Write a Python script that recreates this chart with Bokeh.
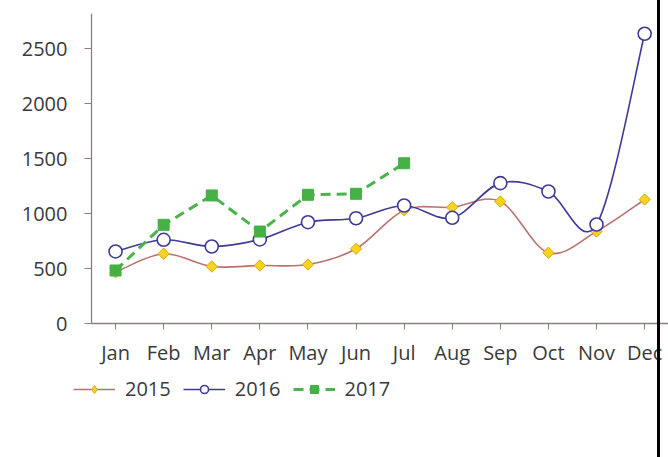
import numpy as np
from bokeh.plotting import figure
from bokeh.models import Range1d, FixedTicker, Legend, LegendItem, InlineStyleSheet
from bokeh.embed import file_html
from bokeh.resources import INLINE

months = ["Jan", "Feb", "Mar", "Apr", "May", "Jun", "Jul", "Aug", "Sep", "Oct", "Nov", "Dec"]
y_ticks = [0, 500, 1000, 1500, 2000, 2500]
series_2015 = [466, 634, 518, 527, 536, 679, 1030, 1057, 1109, 643, 836, 1127]
series_2016 = [655, 761, 700, 764, 921, 957, 1073, 961, 1276, 1200, 900, 2634]
series_2017 = [482, 897, 1164, 836, 1170, 1179, 1457]

FONT = "Open Sans"
TXT = "#3a3a3a"
AXIS = "#8a7f7d"


def smooth_segments(xs, ys):
    """Catmull-Rom style Bezier control points (Excel-like smoothed line)."""
    out = {}
    for name, vals in (("x", xs), ("y", ys)):
        v = np.asarray(vals, dtype=float)
        n = len(v)
        pp = np.concatenate([[v[0]], v, [v[-1]]])
        prev, cur, nxt, nxt2 = pp[0:n - 1], pp[1:n], pp[2:n + 1], pp[3:n + 2]
        out[name + "0"] = cur
        out[name + "1"] = nxt
        out["c" + name + "0"] = cur + (nxt - prev) / 6.0
        out["c" + name + "1"] = nxt - (nxt2 - cur) / 6.0
    return out


border_css = InlineStyleSheet(css="""
:host::after {
  content: "";
  position: absolute;
  left: 657px;
  top: 0px;
  width: 3px;
  height: 457px;
  background: #000;
  pointer-events: none;
}
""")

# frame: x 0..668, y 13..457 ; axes drawn at fixed locations inside it
STEP = 48.1
x_start = -0.5 - 91 / STEP
x_end = -0.5 + (668 - 91) / STEP
PX_PER_UNIT = 0.11
y_top = (323 - 13) / PX_PER_UNIT
y_bottom = -(457 - 323) / PX_PER_UNIT

p = figure(width=668, height=457, output_backend="svg", toolbar_location=None,
           x_range=Range1d(x_start, x_end), y_range=Range1d(y_bottom, y_top),
           min_border_left=0, min_border_right=0, min_border_top=13, min_border_bottom=0,
           stylesheets=[border_css])
p.outline_line_color = None
p.xgrid.visible = False
p.ygrid.visible = False
p.background_fill_color = "white"
p.border_fill_color = "white"

x_idx = list(range(len(months)))

# 2015
s15 = smooth_segments(x_idx, series_2015)
b15 = p.bezier(line_color="#b9726f", line_width=1.6, **s15)
k15 = p.scatter(x_idx, series_2015, marker="diamond", size=10,
                fill_color="#f6d31c", line_color="#d9a81a", line_width=1)
m15 = p.scatter(x_idx, series_2015, marker="square", angle=np.pi / 4, size=8,
                fill_color="#f6d31c", line_color="#d9a81a", line_width=1)

# 2016
s16 = smooth_segments(x_idx, series_2016)
b16 = p.bezier(line_color="#3d3b96", line_width=1.6, **s16)
m16 = p.scatter(x_idx, series_2016, marker="circle", size=13,
                fill_color="white", line_color="#3d3b96", line_width=1.6)

# 2017
x17 = x_idx[:len(series_2017)]
l17 = p.line(x17, series_2017, line_color="#4cb24a", line_width=3, line_dash="10 6")
m17 = p.scatter(x17, series_2017, marker="square", size=11,
                fill_color="#45b043", line_color="#45b043")

# axes
for ax in (p.xaxis[0], p.yaxis[0]):
    ax.axis_line_color = AXIS
    ax.axis_line_width = 1.3
    ax.major_tick_line_color = AXIS
    ax.minor_tick_line_color = None
    ax.major_tick_in = 0
    ax.major_label_text_font = FONT
    ax.major_label_text_color = TXT
    ax.major_label_text_font_size = "20px"

p.yaxis.ticker = FixedTicker(ticks=y_ticks)
p.yaxis.fixed_location = -0.5
p.yaxis.bounds = (0, y_top)
p.yaxis.major_tick_out = 7
p.yaxis.major_label_standoff = 17

p.xaxis.ticker = FixedTicker(ticks=x_idx)
p.xaxis.fixed_location = 0
p.xaxis.bounds = (-0.5, x_end)
p.xaxis.major_label_overrides = {i: m for i, m in enumerate(months)}
p.xaxis.major_tick_out = 6
p.xaxis.major_label_standoff = 9

legend = Legend(items=[LegendItem(label="2015", renderers=[b15, k15]),
                       LegendItem(label="2016", renderers=[b16, m16]),
                       LegendItem(label="2017", renderers=[l17, m17])],
                orientation="horizontal", location=(73, 55),
                border_line_alpha=0, background_fill_alpha=0,
                padding=0, margin=0, spacing=12, glyph_width=42, glyph_height=20,
                label_standoff=10, label_text_font=FONT, label_text_font_size="20px",
                label_text_color=TXT)
p.add_layout(legend)

open("out.html", "w").write(file_html(p, INLINE))
